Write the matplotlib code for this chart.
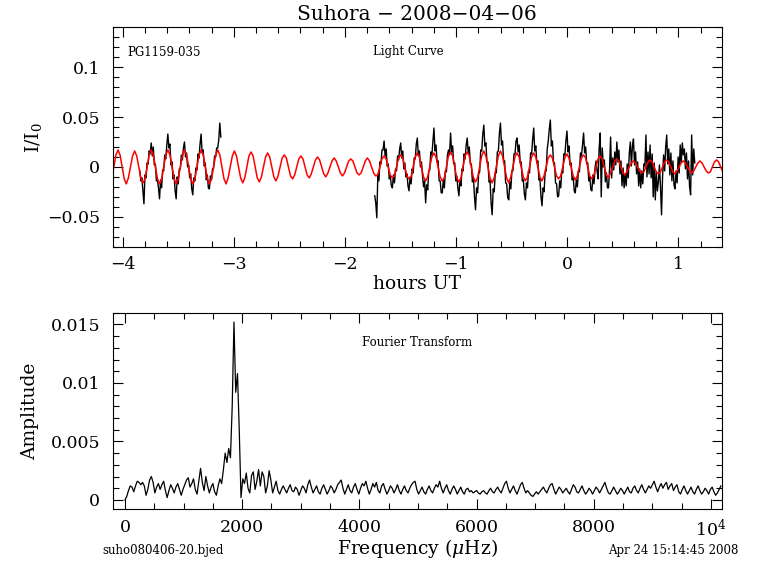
import numpy as np
import matplotlib
matplotlib.use('Agg')
import matplotlib.pyplot as plt
from matplotlib.ticker import MultipleLocator, FuncFormatter

# ---- light curve (I/I0, units of 0.001), two observing runs ----
lc_dt = 0.00935          # hours between points
seg1_t0 = -3.846
seg1_flux = [-4, -14, -11, -24, -37, -8, -11, 4, 3, 16, 13, 24, 11, 20, 2, 3,
             -14, -13, -21, -32, -13, -21, -3, -4, 12, 8, 22, 33, 19, 23, 2, 5,
             -12, -8, -24, -32, -10, -17, -2, -2, 12, 7, 19, 25, 10, 14, 0, 2,
             -11, -7, -22, -28, -11, -14, -1, -3, 13, 9, 23, 33, 14, 17, 1, 4,
             -13, -8, -21, -22, -9, -13, -2, -1, 11, 10, 19, 19, 27, 44, 30]

seg2_t0 = -1.732
seg2_flux = [-29,
             -36, -51, -7, -14, 5, 3, 17, 17, 26, 11, 18, 1, 3, -12, -9, -19,
             -21, -8, -16, -2, -4, 11, 7, 18, 24, 9, 16, -2, 4, -10, -7, -19,
             -24, -10, -17, -2, -6, 9, 8, 23, 29, 11, 16, 0, 5, -9, -20, -14,
             -36, -18, -23, -4, -3, 15, 12, 26, 39, 16, 22, 5, 6, -14, -14, -26,
             -26, -13, -21, -4, -5, 12, 17, 12, 34, 15, 21, 3, 4, -14, -9, -21,
             -29, -14, -19, -2, -4, 13, 8, 22, 29, 14, 20, 3, 3, -15, -10, -30,
             -43, -21, -26, -7, -5, 17, 16, 33, 42, 21, 24, 5, 5, -15, -14, -36,
             -48, -22, -25, -6, -6, 15, 16, 34, 44, 22, 26, 7, 6, -16, -17, -31,
             -33, -15, -22, -4, -4, 13, 13, 26, 29, 15, 22, 4, 5, -14, -13, -27,
             -33, -16, -21, -4, -6, 14, 13, 28, 39, 16, 21, 4, 6, -13, -12, -30,
             -39, -21, -25, -5, -4, 18, 26, 38, 47, 21, 26, 5, 4, -16, -17, -30,
             -29, -14, -21, -4, -6, 13, 12, 26, 36, 15, 21, 2, 4, -13, -10, -24,
             -26, -13, -20, -4, -5, 14, 11, 23, 34, 14, 20, 3, 4, -14, -10, -23,
             -24, -8, -17, -1, 6, -4, -12, 19, 34, -30, 19, 0, 7, -15, -6, -21,
             -21, -2, 30, -11, 9, -3, 15, 2, 25, 5, 17, -7, 6, -19, -1, -21,
             -7, -19, 3, -11, 14, 25, 1, 21, 28, 2, 15, -7, 5, -19, -2, -21,
             -4, -17, 3, 1, 32, -10, 15, -7, 22, -11, 13, -30, 4, -33, -5, -24,
             -15, 2, -20, -48, -10, 12, -4, 20, 32, 3, 18, -8, 14, -14, 6, -18,
             -22, -4, -16, 10, -6, 22, 4, 24, 12, 18, -2, 14, -12, 6, -20, -28,
             32, -8, 18, 4]

# ---- fitted model (red), units of 0.001 ----
fit_t0 = -4.098
fit_dt = 0.0187
fit_flux = [-12, 0, 12, 17, 12, 0, -12, -17,  -11, 0, 11, 16, 11, 0, -11, -16,
            -12, 0, 12, 17, 12, 0, -12, -17,  -12, 0, 12, 17, 12, 0, -12, -17,
            -12, 0, 12, 17, 12, 0, -12, -17,  -12, 0, 12, 17, 12, 0, -12, -17,
            -12, 0, 12, 17, 12, 0, -12, -17,  -11, 0, 11, 16, 11, 0, -11, -16,
            -11, 0, 11, 15, 11, 0, -11, -15,  -10, 0, 10, 14, 10, 0, -10, -14,
            -9, 0, 9, 12, 9, 0, -9, -12,      -8, 0, 8, 11, 8, 0, -8, -11,
            -7, 0, 7, 10, 7, 0, -7, -10,      -6, 0, 6, 9, 6, 0, -6, -9,
            -6, 0, 6, 8, 6, 0, -6, -8,        -6, 0, 6, 9, 6, 0, -6, -9,
            -8, 0, 8, 11, 8, 0, -8, -11,      -9, 0, 9, 12, 9, 0, -9, -12,
            -10, 0, 10, 14, 10, 0, -10, -14,  -10, 0, 10, 14, 10, 0, -10, -14,
            -11, 0, 11, 15, 11, 0, -11, -15,  -11, 0, 11, 15, 11, 0, -11, -15,
            -11, 0, 11, 16, 11, 0, -11, -16,  -11, 0, 11, 16, 11, 0, -11, -16,
            -10, 0, 10, 14, 10, 0, -10, -14,  -10, 0, 10, 14, 10, 0, -10, -14,
            -9, 0, 9, 12, 9, 0, -9, -12,      -9, 0, 9, 13, 9, 0, -9, -13,
            -9, 0, 9, 12, 9, 0, -9, -12,      -8, 0, 8, 11, 8, 0, -8, -11,
            -6, 0, 6, 8, 6, 0, -6, -8,        -4, 0, 4, 6, 4, 0, -4, -6,
            -5, 0, 5, 7, 5, 0, -5, -7,        -5, 0, 5, 7, 5, 0, -5, -7,
            -4, 0, 4, 6, 4, 0, -4, -6,        -4, 0, 4, 6, 4, 0, -4, -6,
            -5, 0, 5, 7, 5, 0, -5, -7]

# ---- amplitude spectrum, units of 1e-5, every 30 microHz from 0 ----
ft_df = 30.0
ft_amp = [0, 30, 80, 120, 110, 70, 120, 160, 150, 130, 150, 120, 40, 90, 170, 200,
          150, 60, 110, 140, 90, 130, 160, 80, 20, 80, 130, 100, 60, 110, 140, 90,
          40, 90, 130, 170, 190, 110, 140, 180, 90, 50, 160, 270, 150, 80, 200, 120,
          60, 110, 140, 70, 40, 120, 180, 140, 260, 400, 320, 440, 360, 800, 1520, 920,
          1080, 600, 20, 180, 140, 230, 100, 60, 210, 240, 90, 160, 260, 120, 240, 200,
          60, 120, 250, 170, 60, 110, 160, 80, 50, 90, 120, 90, 60, 100, 130, 80,
          70, 110, 90, 40, 80, 120, 100, 60, 130, 170, 110, 60, 90, 120, 70, 50,
          100, 130, 90, 50, 80, 120, 100, 60, 90, 130, 150, 170, 100, 50, 90, 130,
          80, 60, 110, 140, 90, 50, 100, 140, 120, 160, 100, 50, 90, 140, 110, 150,
          80, 60, 120, 140, 90, 50, 80, 120, 100, 60, 90, 130, 80, 50, 90, 120,
          80, 60, 100, 130, 150, 160, 90, 50, 80, 110, 70, 50, 90, 120, 80, 60,
          100, 130, 110, 160, 100, 60, 100, 130, 80, 50, 90, 120, 90, 50, 80, 110,
          70, 50, 90, 100, 70, 80, 60, 70, 80, 60, 50, 70, 80, 60, 50, 80,
          100, 70, 60, 90, 110, 80, 60, 100, 140, 160, 100, 60, 90, 120, 80, 50,
          90, 130, 150, 100, 60, 80, 60, 40, 30, 50, 70, 50, 70, 90, 110, 80,
          60, 100, 130, 140, 90, 50, 80, 110, 90, 60, 80, 100, 70, 50, 90, 130,
          110, 70, 60, 90, 120, 80, 50, 70, 100, 80, 50, 80, 110, 90, 60, 90,
          120, 150, 100, 60, 50, 80, 110, 80, 50, 70, 100, 80, 50, 80, 110, 70,
          60, 100, 120, 80, 60, 100, 130, 90, 60, 90, 120, 100, 130, 160, 110, 70,
          110, 140, 100, 130, 150, 90, 120, 140, 80, 110, 130, 70, 50, 90, 120, 80,
          50, 80, 110, 70, 50, 90, 120, 80, 50, 70, 100, 80, 50, 90, 110, 70,
          40, 60, 90, 120]

t1 = seg1_t0 + lc_dt * np.arange(len(seg1_flux))
t2 = seg2_t0 + lc_dt * np.arange(len(seg2_flux))
tf = fit_t0 + fit_dt * np.arange(len(fit_flux))
freq = ft_df * np.arange(len(ft_amp))

plt.rcParams['font.family'] = ['DejaVu Serif']
plt.rcParams['mathtext.fontset'] = 'dejavuserif'
plt.rcParams['axes.unicode_minus'] = True

fig = plt.figure(figsize=(7.68, 5.74), dpi=100)
ax1 = fig.add_axes([0.1467, 0.5702, 0.7930, 0.3822])
ax2 = fig.add_axes([0.1467, 0.1127, 0.7930, 0.3425])

def fmt(v, pos):
    s = '%g' % v
    return s.replace('-', '\u2212')

for ax in (ax1, ax2):
    ax.tick_params(which='both', direction='in', top=True, right=True,
                   width=0.8, labelsize=12.5, color='black')
    ax.tick_params(which='major', length=7)
    ax.tick_params(which='minor', length=4)
    ax.tick_params(axis='y', pad=9)
    ax.tick_params(axis='x', pad=7)
    for sp in ax.spines.values():
        sp.set_linewidth(0.8)

# light curve
ax1.plot(t1, np.array(seg1_flux) / 1000.0, color='black', lw=1.0)
ax1.plot(t2, np.array(seg2_flux) / 1000.0, color='black', lw=1.0)
ax1.plot(tf, np.array(fit_flux) / 1000.0, color='red', lw=1.1)
ax1.set_xlim(-4.09, 1.39)
ax1.set_ylim(-0.08, 0.14)
ax1.xaxis.set_major_locator(MultipleLocator(1))
ax1.xaxis.set_minor_locator(MultipleLocator(0.2))
ax1.yaxis.set_major_locator(MultipleLocator(0.05))
ax1.yaxis.set_minor_locator(MultipleLocator(0.01))
ax1.xaxis.set_major_formatter(FuncFormatter(fmt))
ax1.yaxis.set_major_formatter(FuncFormatter(fmt))
ax1.text(0.0235, 0.887, 'PG1159-035', transform=ax1.transAxes, fontsize=8.5,
         ha='left', va='center')
ax1.text(0.485, 0.892, 'Light Curve', transform=ax1.transAxes, fontsize=8.5,
         ha='center', va='center')

# Fourier transform
ax2.plot(freq, np.array(ft_amp) / 1e5, color='black', lw=0.9)
ax2.set_xlim(-210, 10183)
ax2.set_ylim(-0.0008, 0.016)
ax2.xaxis.set_major_locator(MultipleLocator(2000))
ax2.xaxis.set_minor_locator(MultipleLocator(500))
ax2.yaxis.set_major_locator(MultipleLocator(0.005))
ax2.yaxis.set_minor_locator(MultipleLocator(0.001))
ax2.xaxis.set_major_formatter(FuncFormatter(
    lambda v, p: r'$10^4$' if abs(v - 10000) < 1 else '%d' % v))
ax2.yaxis.set_major_formatter(FuncFormatter(fmt))
ax2.text(0.5, 0.851, 'Fourier Transform', transform=ax2.transAxes, fontsize=8.5,
         ha='center', va='center')

# labels
fig.text(0.543, 0.974, 'Suhora \u2212 2008\u221204\u221206', fontsize=14.5,
         ha='center', va='center')
fig.text(0.543, 0.505, 'hours UT', fontsize=13.5, ha='center', va='center')
fig.text(0.043, 0.761, r'I/I$_0$', fontsize=13.5, rotation=90,
         ha='center', va='center')
fig.text(0.039, 0.284, 'Amplitude', fontsize=13.5, rotation=90,
         ha='center', va='center')
fig.text(0.543, 0.0436, r'Frequency ($\mu$Hz)', fontsize=13.5,
         ha='center', va='center')
fig.text(0.133, 0.0418, 'suho080406-20.bjed', fontsize=8.5, ha='left', va='center')
fig.text(0.961, 0.0418, 'Apr 24 15:14:45 2008', fontsize=8.5, ha='right', va='center')

fig.savefig('out.png', dpi=100)
